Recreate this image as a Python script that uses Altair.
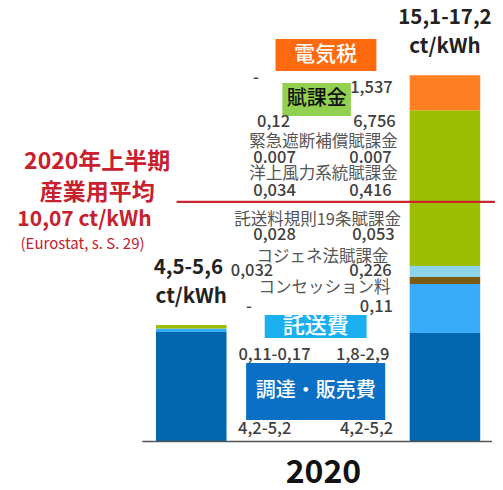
import altair as alt
import pandas as pd

# ---------------- data ----------------
components = ["調達・販売費", "託送費", "コンセッション料", "その他賦課金", "賦課金", "電気税"]
comp_colors = ["#0066AE", "#38ACFB", "#7B5A12", "#8ED4E8", "#9BBE00", "#FF7F22"]
industry_values = [4.60, 0.15, 0.0, 0.0, 0.14, 0.0]
household_values = [4.56, 2.06, 0.29, 0.46, 6.55, 1.47]
industry_avg = 10.07

red_texts = ["2020年上半期", "産業用平均", "10,07 ct/kWh", "(Eurostat, s. S. 29)"]
total_texts = ["15,1-17,2", "ct/kWh", "4,5-5,6", "ct/kWh", "2020"]
number_texts = ["-", "1,537", "0,12", "6,756", "0.007", "0.007", "0,034", "0,416",
                "0,028", "0,053", "0,032", "0,226", "-", "0,11",
                "0,11-0,17", "1,8-2,9", "4,2-5,2", "4,2-5,2"]
levy_texts = ["緊急遮断補償賦課金", "洋上風力系統賦課金", "託送料規則19条賦課金",
              "コジェネ法賦課金", "コンセッション料"]
box_texts = ["電気税", "賦課金", "託送費", "調達・販売費"]

# ---------------- layout ----------------
W, H = 487, 482
BASE_PY = 441.5
PX_PER_CT = 23.8


def ct(py):
    return (BASE_PY - py) / PX_PER_CT


xs = alt.Scale(domain=[8, 8 + W], nice=False, zero=False)
ys = alt.Scale(domain=[ct(8 + H), ct(8)], nice=False, zero=False)
FONT = "Noto Sans CJK JP"

bar_left = [154, 413]
bar_right = [226, 485]

rows = []
for b, vals in enumerate([industry_values, household_values]):
    for i, (c, v) in enumerate(zip(components, vals)):
        rows.append({"bar": b, "comp": c, "value": v, "idx": i,
                     "x": bar_left[b], "x2": bar_right[b]})
bar_df = pd.DataFrame(rows)

bars = alt.Chart(bar_df).mark_bar(stroke=None).encode(
    x=alt.X("x:Q", scale=xs, axis=None),
    x2="x2:Q",
    y=alt.Y("sum(value):Q", stack="zero", scale=ys, axis=None),
    color=alt.Color("comp:N", scale=alt.Scale(domain=components, range=comp_colors), legend=None),
    order=alt.Order("idx:Q"),
    detail="bar:N",
)

base_df = pd.DataFrame({"x": [140], "x2": [497], "y": [0.0]})
base_rule = alt.Chart(base_df).mark_rule(color="#555555", strokeWidth=1.5).encode(
    x=alt.X("x:Q", scale=xs, axis=None), x2="x2:Q",
    y=alt.Y("y:Q", scale=ys, axis=None),
)
avg_df = pd.DataFrame({"x": [175], "x2": [500], "y": [industry_avg]})
avg_rule = alt.Chart(avg_df).mark_rule(color="#C8282D", strokeWidth=2.2).encode(
    x=alt.X("x:Q", scale=xs, axis=None), x2="x2:Q",
    y=alt.Y("y:Q", scale=ys, axis=None),
)

box_pos = [(276, 39, 379, 71), (283, 83, 353, 116), (265, 315, 369, 338), (246, 363, 388, 420)]
box_fill = ["#FF6A0E", "#92D050", "#1AAFEF", "#0A70C6"]
box_layers = []
for name, p, fill in zip(box_texts, box_pos, box_fill):
    bdf = pd.DataFrame({"name": [name], "x": [p[0]], "x2": [p[2]], "y": [ct(p[1])], "y2": [ct(p[3])]})
    box_layers.append(alt.Chart(bdf).mark_rect(color=fill).encode(
        x=alt.X("x:Q", scale=xs, axis=None), x2="x2:Q",
        y=alt.Y("y:Q", scale=ys, axis=None), y2="y2:Q",
    ))


def text_layer(texts, pos, size, color, weight="normal"):
    df = pd.DataFrame({"t": texts, "x": [p[0] for p in pos], "y": [ct(p[1]) for p in pos]})
    return alt.Chart(df).mark_text(font=FONT, fontSize=size, fontWeight=weight, color=color,
                                   align="center", baseline="middle").encode(
        x=alt.X("x:Q", scale=xs, axis=None),
        y=alt.Y("y:Q", scale=ys, axis=None),
        text="t:N",
    )


red_pos = [(94, 162), (94, 193), (81, 220), (79, 244)]
red_layers = [
    text_layer(red_texts[:2], red_pos[:2], 23, "#C8202D", "bold"),
    text_layer(red_texts[2:3], red_pos[2:3], 21, "#C8202D", "bold"),
    text_layer(red_texts[3:], red_pos[3:], 15, "#C8202D"),
]
total_pos = [(449, 18), (449, 47), (187, 268), (190, 297), (325, 473)]
total_layers = [
    text_layer(total_texts[:4], total_pos[:4], 20.5, "#222222", "bold"),
    text_layer(total_texts[4:], total_pos[4:], 32, "#111111", "bold"),
]
num_pos = [(256, 78), (374, 88), (274, 122), (377, 122), (275, 158), (373, 158),
           (275, 191), (373, 191), (275, 235), (376, 235), (252, 271), (373, 271),
           (249, 307), (379, 307), (275, 355), (365, 355), (265, 429), (369, 429)]
num_layer = text_layer(number_texts, num_pos, 16.5, "#404040", 500)
levy_pos = [(325, 142), (325, 174), (319, 220), (324, 257), (326, 288)]
levy_layer = text_layer(levy_texts, levy_pos, 16.5, "#555555")
box_text_pos = [(327, 55), (318, 99), (317, 326), (317, 391)]
box_text_layers = [
    text_layer([box_texts[0]], [box_text_pos[0]], 21, "#FFFFFF", 500),
    text_layer([box_texts[1]], [box_text_pos[1]], 20, "#111111", 500),
    text_layer([box_texts[2]], [box_text_pos[2]], 22, "#FFFFFF", 500),
    text_layer([box_texts[3]], [box_text_pos[3]], 20, "#FFFFFF", 500),
]

chart = alt.layer(
    bars, base_rule, avg_rule, *box_layers, *red_layers, *total_layers,
    num_layer, levy_layer, *box_text_layers
).properties(
    width=W, height=H, padding=0, autosize=alt.AutoSizeParams(type="none"),
    background="#FFFFFF",
).configure_view(stroke=None)

chart.save("out.html", embed_options={"renderer": "svg", "actions": False})
